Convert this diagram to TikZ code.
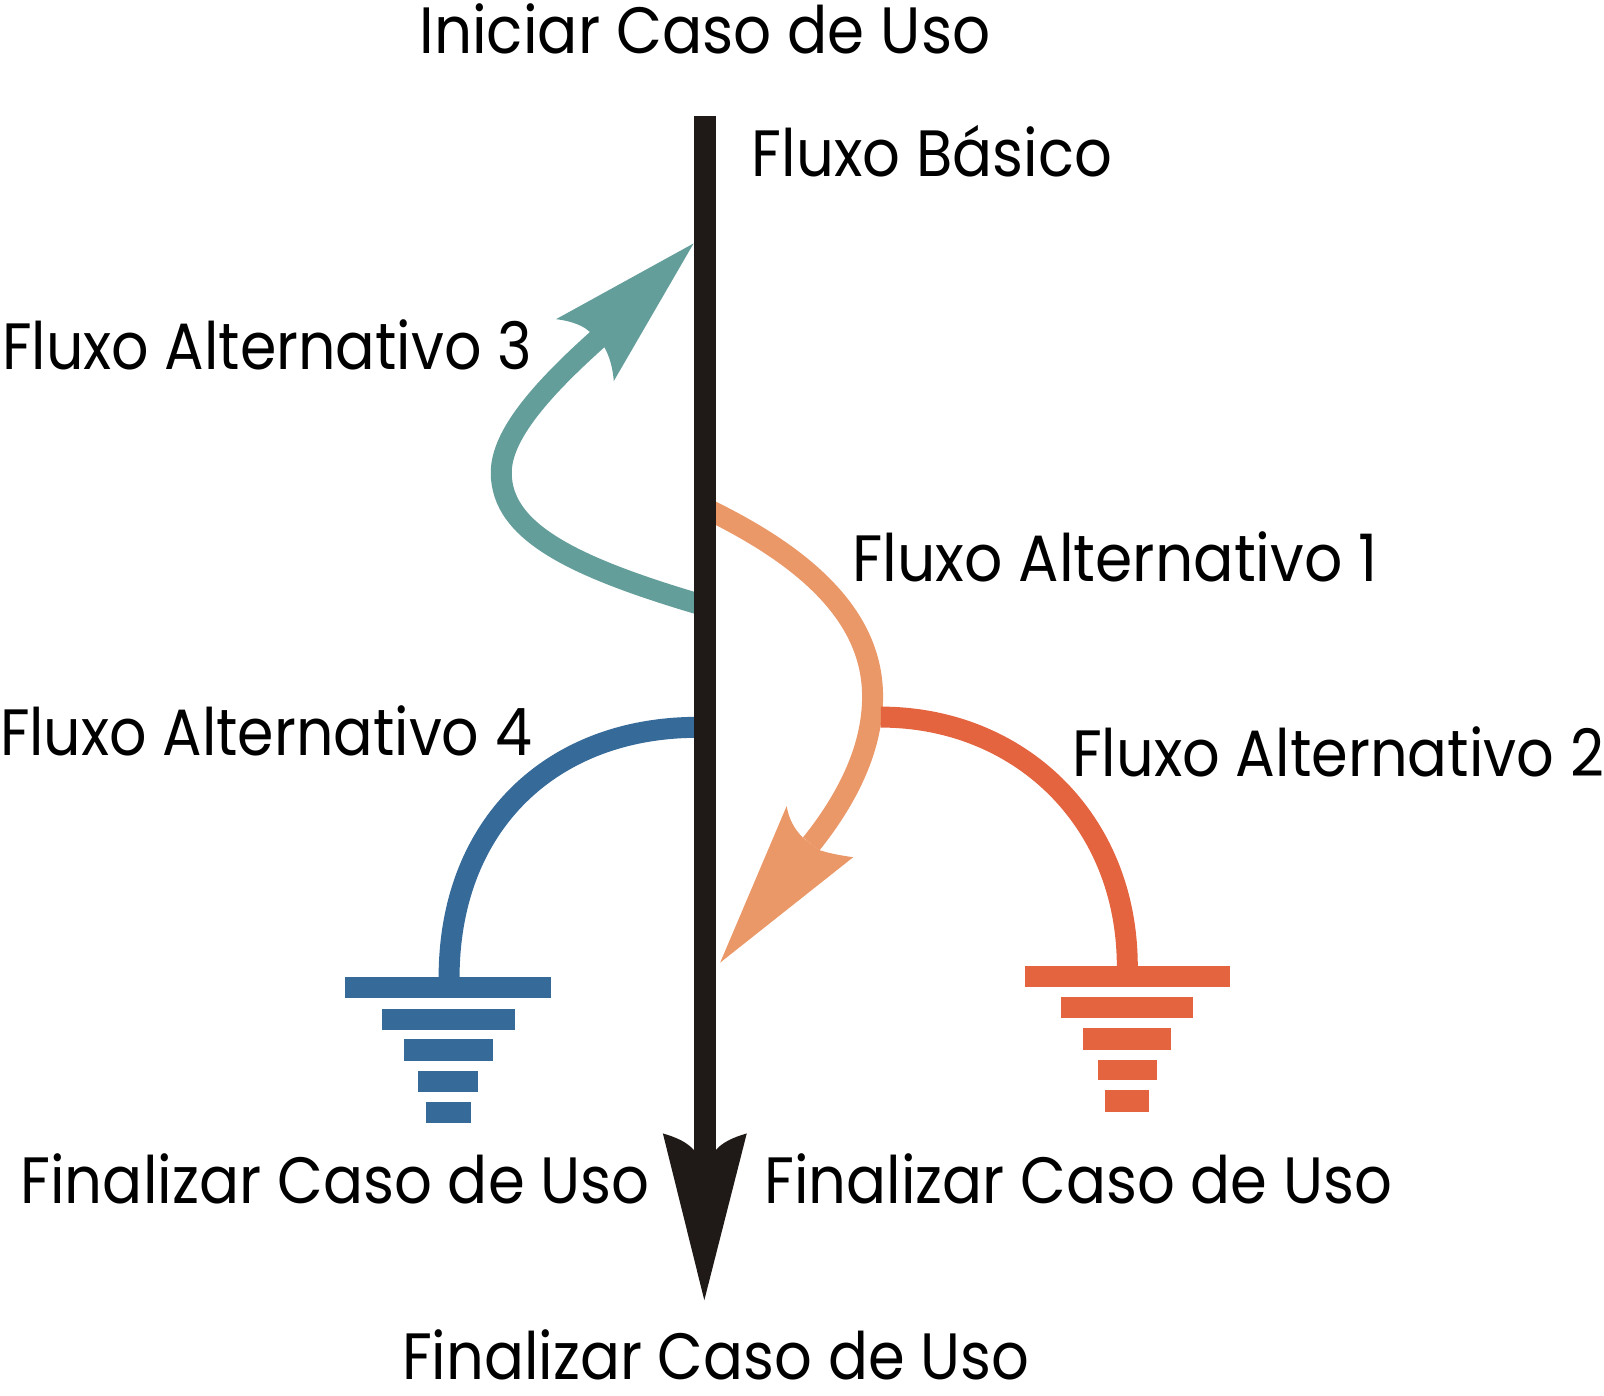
\documentclass[tikz,border=0pt]{standalone}
\usepackage{fontspec}
\setmainfont{Poppins}
\usepackage{graphicx}
\definecolor{tealflow}{HTML}{649E9B}
\definecolor{orangeflow}{HTML}{EB9868}
\definecolor{redflow}{HTML}{E4643F}
\definecolor{blueflow}{HTML}{356A99}
\definecolor{mainblack}{HTML}{1F1A17}
\newcommand{\fitw}[2]{\resizebox{#1}{\height}{#2}}
\tikzset{
  lbl/.style={anchor=base west, inner sep=0pt, outer sep=0pt, font=\fontsize{64}{64}\selectfont, text=black},
  flowline/.style={line width=20.5pt, line cap=butt},
}
\begin{document}
\begin{tikzpicture}[x=1pt,y=-1pt]
\useasboundingbox (0,0) rectangle (1568,1364);
\fill[white] (0,0) rectangle (1568,1364);

% named points
\coordinate (mtop) at (689,113);
\coordinate (mneck) at (689,1125);
\coordinate (tealstart) at (695,594);
\coordinate (tealneck) at (586,330);
\coordinate (orstart) at (690,497);
\coordinate (orright) at (853,681);
\coordinate (orneck) at (793,825);
\coordinate (redstart) at (861,701);
\coordinate (redend) at (1102,945);
\coordinate (bluestart) at (682,711);
\coordinate (blueend) at (439,956);

% teal (Fluxo Alternativo 3)
\draw[flowline, tealflow] (tealstart) .. controls (560,555) and (490,520) .. (490,462)
   .. controls (490,425) and (530,380) .. (tealneck);
\fill[tealflow] (678,238) -- (543.6,312) .. controls (560,314) and (572,319) .. (578,326)
   -- (590,338) .. controls (596,348) and (599,360) .. (600,372.5) -- cycle;

% orange (Fluxo Alternativo 1)
\draw[flowline, orangeflow] (orstart) .. controls (800,550) and (853,610) .. (orright)
   .. controls (853,735) and (825,785) .. (orneck);
\fill[orangeflow] (704,941) -- (769,788) .. controls (771,800) and (776,810) .. (785,819)
   -- (801,831) .. controls (810,834) and (820,836) .. (834,838) -- cycle;

% red (Fluxo Alternativo 2)
\draw[flowline, redflow] (redstart) .. controls (995,701) and (1102,800) .. (redend);
\fill[redflow] (1002,944) rectangle (1202,965);
\fill[redflow] (1037,975) rectangle (1166,995);
\fill[redflow] (1059,1005) rectangle (1145,1026);
\fill[redflow] (1073,1036) rectangle (1131,1056);
\fill[redflow] (1080,1066) rectangle (1123,1087);

% blue (Fluxo Alternativo 4)
\draw[flowline, blueflow] (bluestart) .. controls (540,711) and (439,805) .. (blueend);
\fill[blueflow] (337,955) rectangle (539,976);
\fill[blueflow] (373,986) rectangle (503,1007);
\fill[blueflow] (395,1016) rectangle (482,1037);
\fill[blueflow] (409,1047) rectangle (467,1067);
\fill[blueflow] (416,1077) rectangle (460,1098);

% main black flow
\draw[mainblack, line width=22pt] (mtop) -- (mneck);
\fill[mainblack] (688.5,1271) -- (648,1108) .. controls (662,1112) and (672,1117) .. (678,1124)
   -- (700,1124) .. controls (706,1117) and (716,1112) .. (730,1108) -- cycle;

% labels
\node[lbl] (tIni) at (410,52) {\fitw{558pt}{Iniciar Caso de Uso}};
\node[lbl] (tBas) at (735,173) {\fitw{352pt}{Fluxo Básico}};
\node[lbl] (tA3) at (2,361) {\fitw{518pt}{Fluxo Alternativo 3}};
\node[lbl] (tA1) at (833,568) {\fitw{514pt}{Fluxo Alternativo 1}};
\node[lbl] (tA4) at (0,739) {\fitw{520pt}{Fluxo Alternativo 4}};
\node[lbl] (tA2) at (1048,759) {\fitw{520pt}{Fluxo Alternativo 2}};
\node[lbl] (tFL) at (20,1176) {\fitw{615pt}{Finalizar Caso de Uso}};
\node[lbl] (tFR) at (747,1176) {\fitw{614pt}{Finalizar Caso de Uso}};
\node[lbl] (tFB) at (393,1349) {\fitw{613pt}{Finalizar Caso de Uso}};
\end{tikzpicture}
\end{document}
